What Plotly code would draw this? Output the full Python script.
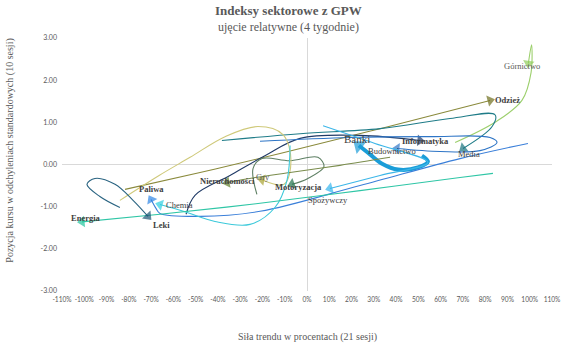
import plotly.graph_objects as go

# ---------------- data (x: trend strength in %, y: position in std devs) ----------------
sectors = ["Górnictwo", "Odzież", "Informatyka", "Media", "Banki", "Budownictwo", "Spożywczy",
           "Motoryzacja", "Gry", "Nieruchomości", "Paliwa", "Chemia", "Energia", "Leki"]

gornictwo_x = [66.5, 84.4, 96.5, 100.6, 100.8, 99.4]
gornictwo_y = [0.52, 1.00, 1.52, 2.18, 2.84, 2.40]

odziez_x = [-81.7, -48.0, -12.1, 32.8, 82.2]
odziez_y = [-0.59, -0.19, 0.26, 0.85, 1.52]

informatyka_x = [-54.3, -50.3, -34.6, -18.9, -3.1, 23.8, 50.7]
informatyka_y = [-1.18, -0.73, -0.26, 0.21, 0.62, 0.69, 0.57]

media_x = [-38.2, -3.1, 32.8, 64.2, 84.4, 83.1, 70.1]
media_y = [0.57, 0.73, 0.85, 1.09, 1.18, 0.90, 0.38]

banki_x = [51.6, 54.3, 49.8, 40.9, 33.7, 28.3, 23.3]
banki_y = [0.21, 0.07, -0.07, -0.12, 0.02, 0.24, 0.45]

budownictwo_x = [-21.1, 19.3, 55.2, 82.2, 85.3, 77.7, 59.7, 40.4]
budownictwo_y = [0.55, 0.64, 0.66, 0.64, 0.52, 0.33, 0.31, 0.38]

spozywczy_x = [7.2, 30.5, 54.3, 32.8, 10.3]
spozywczy_y = [0.92, 0.50, 0.05, -0.26, -0.57]

motoryzacja_x = [-22.5, -24.2, -20.2, -7.6, 4.9, 7.6, 0.4, -6.7]
motoryzacja_y = [-0.71, -0.09, 0.14, 0.09, 0.17, -0.05, -0.33, -0.47]

gry_x = [-84.0, -66.4, -52.5, -36.8, -22.0, -10.8, -7.2, -10.3, -20.2]
gry_y = [-0.85, -0.26, 0.17, 0.66, 0.90, 0.71, 0.09, -0.47, -0.36]

nieruchomosci_x = [37.3, 14.8, -7.6, -23.3, -35.9]
nieruchomosci_y = [0.17, -0.02, -0.19, -0.31, -0.43]

paliwa_x = [99.2, 68.7, 23.8, -21.1, -48.0, -66.0, -67.8, -70.0]
paliwa_y = [0.50, 0.14, -0.50, -1.11, -1.23, -1.16, -1.04, -0.83]

chemia_x = [-7.6, -9.0, -14.4, -25.6, -41.3, -54.8, -66.0]
chemia_y = [0.45, -0.38, -1.02, -1.42, -1.35, -1.12, -0.95]

energia_x = [83.5, 68.7, 23.8, -21.1, -66.0, -101.0]
energia_y = [-0.21, -0.31, -0.62, -0.92, -1.18, -1.36]

leki_x = [-84.0, -93.0, -98.8, -95.2, -86.2, -78.1, -71.4]
leki_y = [-1.02, -0.76, -0.47, -0.33, -0.47, -0.85, -1.23]

series_x = [gornictwo_x, odziez_x, informatyka_x, media_x, banki_x, budownictwo_x, spozywczy_x,
            motoryzacja_x, gry_x, nieruchomosci_x, paliwa_x, chemia_x, energia_x, leki_x]
series_y = [gornictwo_y, odziez_y, informatyka_y, media_y, banki_y, budownictwo_y, spozywczy_y,
            motoryzacja_y, gry_y, nieruchomosci_y, paliwa_y, chemia_y, energia_y, leki_y]

x_tick_values = list(range(-110, 111, 10))
x_tick_labels = [f"{v}%" for v in x_tick_values]
y_tick_values = [-3, -2, -1, 0, 1, 2, 3]
y_tick_labels = [f"{v:.2f}" for v in y_tick_values]

# ---------------- styles ----------------
line_colors = {
    "Górnictwo": "#9ccf6c", "Odzież": "#8a8a3c", "Informatyka": "#203a66", "Media": "#1f7c88",
    "Banki": "#1b9dd8", "Budownictwo": "#2e75c6", "Spożywczy": "#3cb6e8", "Motoryzacja": "#5d7f63",
    "Gry": "#cfc97a", "Nieruchomości": "#7a8c4c", "Paliwa": "#3a7fd9", "Chemia": "#3cc9da",
    "Energia": "#2fc6a6", "Leki": "#2a6482",
}
arrow_colors = {
    "Górnictwo": "#8fcc5a", "Odzież": "#6f6f1e", "Informatyka": "#1f3864", "Media": "#17727e",
    "Banki": "#1b9dd8", "Budownictwo": "#2e75c6", "Spożywczy": "#33b5ee", "Motoryzacja": "#1e7148",
    "Gry": "#a8a332", "Nieruchomości": "#5e7d2a", "Paliwa": "#2f86e6", "Chemia": "#2fcfe0",
    "Energia": "#22c49c", "Leki": "#1a5575",
}
# label offset in px (dx right, dy down), font size, bold, colour
label_style = {
    "Górnictwo": (-6, 3, 8.5, False, "#595959"),
    "Odzież": (17, 0, 8.5, True, "#404040"),
    "Informatyka": (6, 1, 8.5, True, "#404040"),
    "Media": (6, 6, 8.5, False, "#404040"),
    "Banki": (-2, -7, 11, False, "#404040"),
    "Budownictwo": (-5, 3, 8.5, False, "#404040"),
    "Spożywczy": (-2, 11, 8.5, False, "#404040"),
    "Motoryzacja": (6, 3, 8.5, True, "#404040"),
    "Gry": (1, -3, 8.5, False, "#595959"),
    "Nieruchomości": (0, -2, 8.5, True, "#404040"),
    "Paliwa": (0, -11, 8.5, True, "#404040"),
    "Chemia": (19, 0, 8.5, False, "#404040"),
    "Energia": (4, -4, 8.5, True, "#404040"),
    "Leki": (14, 9, 8.5, True, "#404040"),
}

fig = go.Figure()
annotations = []
for name, xs, ys in zip(sectors, series_x, series_y):
    big = name == "Banki"
    n = len(xs)
    fig.add_trace(go.Scatter(
        x=xs, y=ys, mode="lines+markers", name=name,
        line=dict(color=line_colors[name], width=4 if big else 1.1, shape="spline", smoothing=1.0),
        marker=dict(symbol="triangle-up", angleref="previous",
                    size=[0] * (n - 1) + [14 if big else 10],
                    color=arrow_colors[name], line=dict(width=0)),
        hoverinfo="name", showlegend=False,
    ))
    dx, dy, fs, bold, col = label_style[name]
    annotations.append(dict(
        x=xs[-1], y=ys[-1], xref="x", yref="y", showarrow=False,
        text=f"<b>{name}</b>" if bold else name,
        xshift=dx, yshift=-dy,
        font=dict(family="Liberation Serif", size=fs, color=col),
    ))

serif = "Liberation Serif"
annotations += [
    dict(text="<b>Indeksy sektorowe z GPW</b>", xref="paper", yref="paper", x=0.463, y=1.107,
         showarrow=False, xanchor="center", yanchor="middle",
         font=dict(family=serif, size=13, color="#595959")),
    dict(text="ujęcie relatywne (4 tygodnie)", xref="paper", yref="paper", x=0.463, y=1.043,
         showarrow=False, xanchor="center", yanchor="middle",
         font=dict(family=serif, size=12, color="#595959")),
    dict(text="Siła trendu w procentach (21 sesji)", xref="paper", yref="paper", x=0.5, y=-0.182,
         showarrow=False, xanchor="center", yanchor="middle",
         font=dict(family=serif, size=10, color="#595959")),
    dict(text="Pozycja kursu w odchyleniach standardowych (10 sesji)", xref="paper", yref="paper",
         x=-0.106, y=0.555, textangle=-90, showarrow=False, xanchor="center", yanchor="middle",
         font=dict(family=serif, size=10, color="#595959")),
]

fig.update_layout(
    width=564, height=348,
    margin=dict(l=62, r=12, t=38, b=57, autoexpand=False),
    paper_bgcolor="white", plot_bgcolor="white",
    showlegend=False,
    annotations=annotations,
    xaxis=dict(range=[-110, 110], tickvals=x_tick_values, ticktext=x_tick_labels,
               showgrid=False, zeroline=True, zerolinecolor="#d9d9d9", zerolinewidth=1,
               showline=False, ticks="", ticklen=0, tickangle=0, automargin=False,
               ticklabelstandoff=3,
               tickfont=dict(family="Lato", size=6.6, color="#595959")),
    yaxis=dict(range=[-3, 3], tickvals=y_tick_values, ticktext=y_tick_labels,
               showgrid=False, zeroline=True, zerolinecolor="#d9d9d9", zerolinewidth=1,
               showline=False, ticks="", ticklabelstandoff=4, automargin=False,
               tickfont=dict(family="Lato", size=7, color="#595959")),
)

fig.write_html("out.html")
